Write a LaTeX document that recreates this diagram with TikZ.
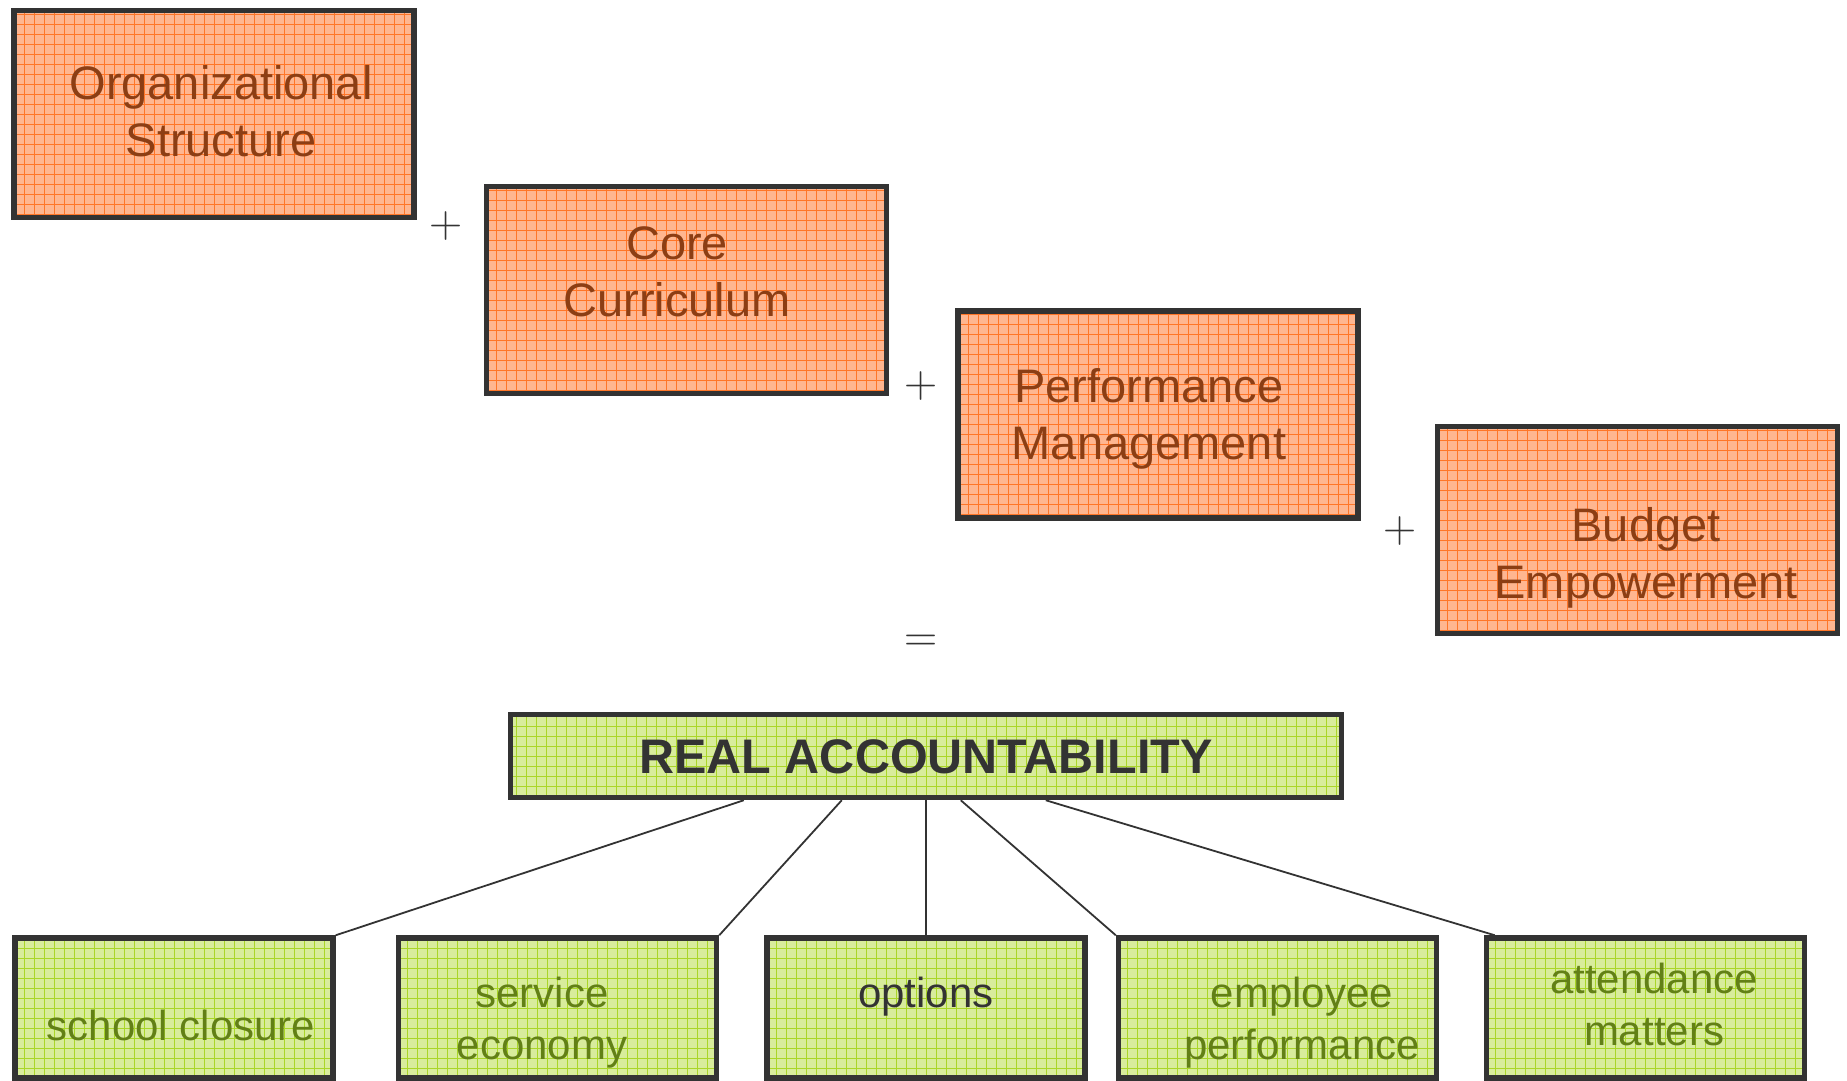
\documentclass[tikz,border=0pt]{standalone}
\usepackage{fontspec}
\setsansfont{Liberation Sans}
\usetikzlibrary{calc}

\definecolor{edge}{HTML}{333333}
\definecolor{orfill}{RGB}{255,182,144}
\definecolor{orgrid}{RGB}{255,118,40}
\definecolor{orink}{RGB}{140,62,20}
\definecolor{grfill}{RGB}{216,236,156}
\definecolor{grgrid}{RGB}{170,214,40}
\definecolor{grink}{RGB}{98,128,22}

\tikzset{
  gridbox/.style 2 args={draw=edge, line width=5.5pt, fill=#1, inner sep=0pt,
    path picture={\draw[#2, line width=0.75pt, step=10pt]
      (path picture bounding box.south west) grid (path picture bounding box.north east);}},
  topic/.style={gridbox={orfill}{orgrid}, minimum width=400pt, minimum height=207pt},
  result/.style={gridbox={grfill}{grgrid}, minimum width=831pt, minimum height=83pt},
  facet/.style={gridbox={grfill}{grgrid}, minimum width=318pt, minimum height=140pt},
  topictext/.style={text=orink, align=center, font=\sffamily\fontsize{47}{57}\selectfont},
  facettext/.style={text=grink, align=center, font=\sffamily\fontsize{42}{52}\selectfont},
  sign/.style={text=edge, font=\rmfamily\fontsize{46}{46}\selectfont},
  link/.style={draw=edge, line width=1.8pt},
}

\begin{document}
\begin{tikzpicture}[x=1pt, y=-1pt]
  \useasboundingbox (0,0) rectangle (1847,1081);

  % four building blocks
  \node[topic] (org)  at (214,114) {};
  \node[topic] (core) at (686.5,290) {};
  \node[topic] (perf) at (1158,414.5) {};
  \node[topic] (bud)  at (1637.5,530) {};

  \node[topictext] (orgT)  at (221,111) {Organizational\\Structure};
  \node[topictext] (coreT) at (677,272) {Core\\Curriculum};
  \node[topictext] (perfT) at (1149,419) {Performance\\Management};
  \node[topictext] (budT)  at (1646,558) {Budget\\Empowerment};

  % operators
  \node[sign] (p1) at (446,226) {+};
  \node[sign] (p2) at (921,386) {+};
  \node[sign] (p3) at (1400,531) {+};
  \node[sign] (eq) at (921,643) {=};

  % outcome
  \node[result] (real) at (926,756) {};
  \node[text=edge, font=\sffamily\bfseries\fontsize{48.5}{48.5}\selectfont] (realT) at (926,757) {REAL ACCOUNTABILITY};

  % facets
  \node[facet] (f1) at (174,1008) {};
  \node[facet] (f2) at (557.5,1008) {};
  \node[facet] (f3) at (926,1008) {};
  \node[facet] (f4) at (1277.5,1008) {};
  \node[facet] (f5) at (1645.5,1008) {};

  \node[facettext] (f1T) at (181,1025) {school closure};
  \node[facettext] (f2T) at (542,1023) {service\\economy};
  \node[facettext, text=edge] (f3T) at (926,997) {options};
  \node[facettext] (f4T) at (1302,1023) {employee\\performance};
  \node[facettext] (f5T) at (1654,1004) {attendance\\matters};

  % connectors
  \draw[link] ($(real.south west)+(236,0)$) -- (f1.north east);
  \draw[link] ($(real.south west)+(334,0)$) -- (f2.north east);
  \draw[link] (real.south) -- (f3.north);
  \draw[link] ($(real.south west)+(453,0)$) -- (f4.north west);
  \draw[link] ($(real.south west)+(538,0)$) -- ($(f5.north west)+(11,0)$);
\end{tikzpicture}
\end{document}
